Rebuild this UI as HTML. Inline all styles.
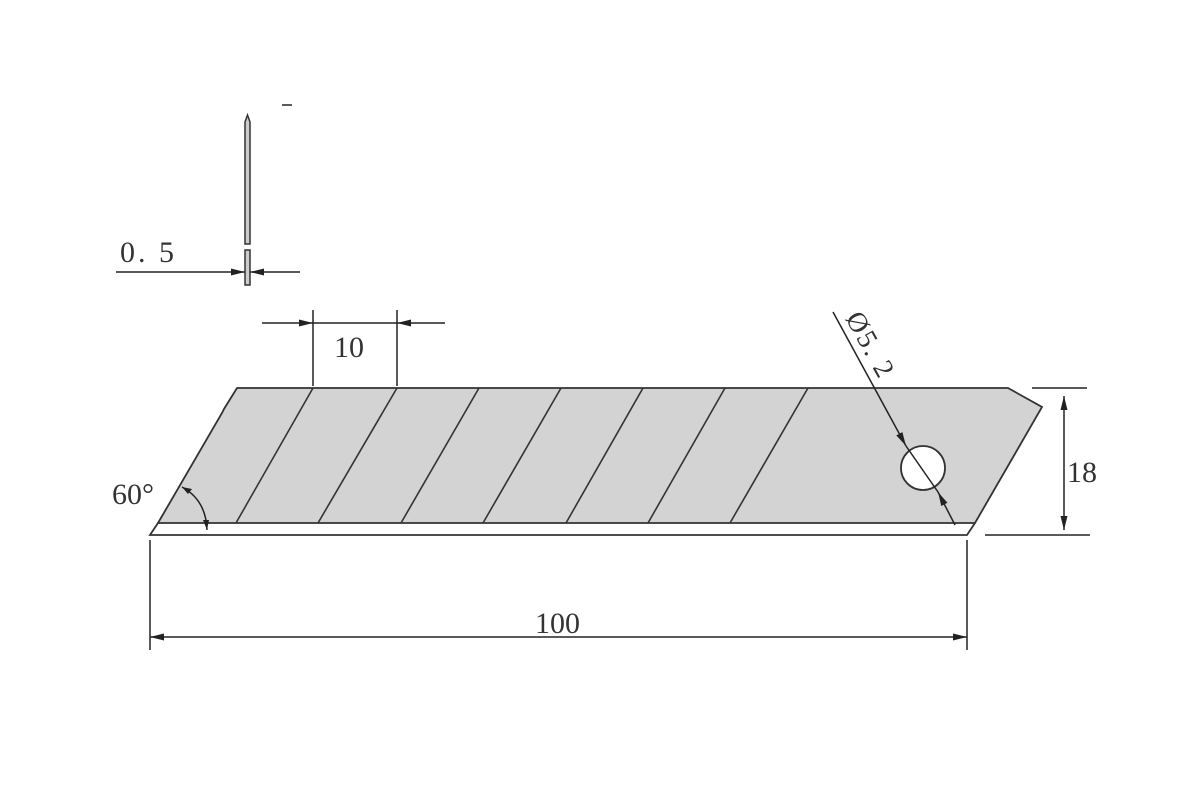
<!DOCTYPE html>
<html><head><meta charset="utf-8"><style>body{margin:0;background:#fff}svg{display:block}</style></head><body>
<svg width="1200" height="800" viewBox="0 0 1200 800" xmlns="http://www.w3.org/2000/svg" font-family="Liberation Serif, serif" fill="none" stroke="#222">
<defs>
<marker id="a" viewBox="0 0 14 7" refX="14" refY="3.5" markerWidth="14" markerHeight="7" markerUnits="userSpaceOnUse" orient="auto"><path d="M0,0 L14,3.5 L0,7 z" fill="#222" stroke="none"/></marker>
</defs>
<path d="M245,244 L245,122 L247.5,115 L250,122 L250,244 Z" fill="#ccc" stroke="#333" stroke-width="1.5"/>
<rect x="245" y="250" width="5" height="35" fill="#ccc" stroke="#333" stroke-width="1.5"/>
<line x1="282" y1="105" x2="292" y2="105" stroke-width="1.5"/>
<line x1="116" y1="272" x2="245" y2="272" stroke-width="1.5" marker-end="url(#a)"/>
<line x1="300" y1="272" x2="250" y2="272" stroke-width="1.5" marker-end="url(#a)"/>
<text x="120" y="262" font-size="30" fill="#333" stroke="none" letter-spacing="3">0. 5</text>
<path d="M237,388 L1008,388 L1042,407 L975,523 L158,523 L222,413 L224,409 Z" fill="#d3d3d3" stroke="#333" stroke-width="1.8"/>
<path d="M158,523 L150,535 L967,535 L975,523" stroke="#333" stroke-width="1.8"/>
<g stroke="#333" stroke-width="1.6">
<line x1="313" y1="388" x2="236" y2="523"/>
<line x1="397" y1="388" x2="318" y2="523"/>
<line x1="479" y1="388" x2="401" y2="523"/>
<line x1="561" y1="388" x2="483" y2="523"/>
<line x1="643" y1="388" x2="566" y2="523"/>
<line x1="725" y1="388" x2="648" y2="523"/>
<line x1="808" y1="388" x2="730" y2="523"/>
</g>
<circle cx="923" cy="468" r="22" fill="#fff" stroke="#333" stroke-width="1.8"/>
<line x1="833" y1="312" x2="906" y2="446" stroke-width="1.5" marker-end="url(#a)"/>
<line x1="955" y1="525" x2="938" y2="492" stroke-width="1.5" marker-end="url(#a)"/>
<line x1="906" y1="446" x2="938" y2="492" stroke-width="1.5"/>
<text transform="translate(845,318) rotate(61)" font-size="28" fill="#333" stroke="none" letter-spacing="2">Ø5. 2</text>
<line x1="313" y1="310" x2="313" y2="386" stroke-width="1.5"/>
<line x1="397" y1="310" x2="397" y2="386" stroke-width="1.5"/>
<line x1="262" y1="323" x2="313" y2="323" stroke-width="1.5" marker-end="url(#a)"/>
<line x1="445" y1="323" x2="397" y2="323" stroke-width="1.5" marker-end="url(#a)"/>
<line x1="313" y1="323" x2="397" y2="323" stroke-width="1.5"/>
<text x="334" y="357" font-size="30" fill="#333" stroke="none">10</text>
<line x1="1032" y1="388" x2="1087" y2="388" stroke-width="1.5"/>
<line x1="985" y1="535" x2="1090" y2="535" stroke-width="1.5"/>
<line x1="1064" y1="460" x2="1064" y2="396" stroke-width="1.5" marker-end="url(#a)"/>
<line x1="1064" y1="460" x2="1064" y2="530" stroke-width="1.5" marker-end="url(#a)"/>
<text x="1067" y="482" font-size="30" fill="#333" stroke="none">18</text>
<line x1="150" y1="540" x2="150" y2="650" stroke-width="1.5"/>
<line x1="967" y1="540" x2="967" y2="650" stroke-width="1.5"/>
<line x1="560" y1="637" x2="150" y2="637" stroke-width="1.5" marker-end="url(#a)"/>
<line x1="560" y1="637" x2="967" y2="637" stroke-width="1.5" marker-end="url(#a)"/>
<text x="535" y="633" font-size="30" fill="#333" stroke="none">100</text>
<path d="M182,487 Q206,500 207,530" stroke-width="1.5"/>
<path d="M182,487 l10,2 l-4,5 z" fill="#222" stroke="none"/>
<path d="M207,530 l-4,-10 l6,0 z" fill="#222" stroke="none"/>
<text x="112" y="504" font-size="30" fill="#333" stroke="none">60°</text>
</svg>
</body></html>
